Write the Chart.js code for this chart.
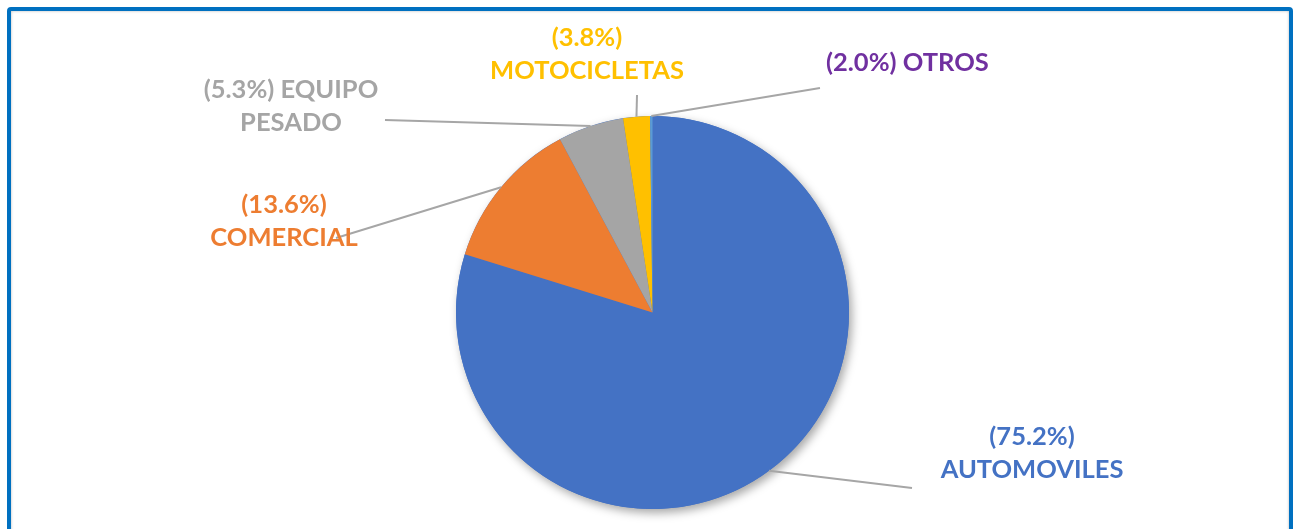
<!DOCTYPE html>
<html>
<head>
<meta charset="utf-8">
<script src="https://cdn.jsdelivr.net/npm/chart.js@4"></script>
<style>
    body { margin: 0; background: #fff; }
    #wrap { position: relative; width: 1293px; height: 529px; overflow: hidden; }
    #pieChart { position: absolute; left: 0; top: 0; }
    #frame {
        position: absolute; left: 7px; top: 7px; width: 1286px; height: 600px;
        box-sizing: border-box; border: 4px solid #0070C0; border-radius: 4px;
        box-shadow: inset 0 0 3px rgba(0,0,0,0.28);
        pointer-events: none;
    }
</style>
</head>
<body>
<div id="wrap">
    <canvas id="pieChart" width="1293" height="529"></canvas>
    <div id="frame"></div>
</div>
<script>
// slice sizes as drawn, printed percentages from the labels
const categories = ['AUTOMOVILES', 'COMERCIAL', 'EQUIPO PESADO', 'MOTOCICLETAS', 'OTROS'];
const sliceValues = [79.8, 12.4, 5.4, 2.2, 0.2];
const printedPercents = ['75.2%', '13.6%', '5.3%', '3.8%', '2.0%'];
const sliceColors = ['#4472C4', '#ED7D31', '#A5A5A5', '#FFC000', '#5B9BD5'];
const textColors = ['#4472C4', '#ED7D31', '#A5A5A5', '#FFC000', '#7030A0'];

// label text lines
const labelLines = [
    ['(' + printedPercents[0] + ')', categories[0]],
    ['(' + printedPercents[1] + ')', categories[1]],
    ['(' + printedPercents[2] + ') EQUIPO', 'PESADO'],
    ['(' + printedPercents[3] + ')', categories[3]],
    ['(' + printedPercents[4] + ') ' + categories[4]]
];

// where each label sits and where its leader line ends (pixels)
const labelLayout = [
    { x: 1032, y: 437, align: 'center', lineEnd: [912, 488] },
    { x: 284, y: 205, align: 'center', lineEnd: [336, 238] },
    { x: 291, y: 90, align: 'center', lineEnd: [385, 120] },
    { x: 587, y: 38, align: 'center', lineEnd: [637, 95] },
    { x: 826, y: 63, align: 'left', lineEnd: [820, 88] }
];

const lineGap = 33;
const labelFont = 'bold 25.5px Lato';

const shadowPlugin = {
    id: 'pieShadow',
    beforeDatasetsDraw(chart) {
        let arc = chart.getDatasetMeta(0).data[0];
        let ctx = chart.ctx;
        ctx.save();
        ctx.shadowColor = 'rgba(0,0,0,0.35)';
        ctx.shadowBlur = 10;
        ctx.shadowOffsetX = 3;
        ctx.shadowOffsetY = 4;
        ctx.beginPath();
        ctx.arc(arc.x, arc.y, arc.outerRadius, 0, Math.PI * 2);
        ctx.fillStyle = sliceColors[0];
        ctx.fill();
        ctx.restore();
    }
};

const labelPlugin = {
    id: 'outerLabels',
    afterDraw(chart) {
        let ctx = chart.ctx;
        let arcs = chart.getDatasetMeta(0).data;
        ctx.save();
        arcs.forEach((arc, i) => {
            let mid = (arc.startAngle + arc.endAngle) / 2;
            let sx = arc.x + Math.cos(mid) * arc.outerRadius;
            let sy = arc.y + Math.sin(mid) * arc.outerRadius;
            let lay = labelLayout[i];
            ctx.strokeStyle = '#A6A6A6';
            ctx.lineWidth = 2;
            ctx.beginPath();
            ctx.moveTo(sx, sy);
            ctx.lineTo(lay.lineEnd[0], lay.lineEnd[1]);
            ctx.stroke();
        });
        ctx.font = labelFont;
        ctx.textBaseline = 'middle';
        arcs.forEach((arc, i) => {
            let lay = labelLayout[i];
            ctx.fillStyle = textColors[i];
            ctx.textAlign = lay.align;
            labelLines[i].forEach((line, j) => {
                ctx.fillText(line, lay.x, lay.y + j * lineGap);
            });
        });
        ctx.restore();
    }
};

function drawChart() {
    let ctx = document.getElementById('pieChart').getContext('2d');
    new Chart(ctx, {
        type: 'pie',
        data: {
            labels: categories,
            datasets: [{
                data: sliceValues,
                backgroundColor: sliceColors,
                borderWidth: 0
            }]
        },
        options: {
            responsive: false,
            animation: false,
            devicePixelRatio: 1,
            layout: { padding: { top: 116, bottom: 20, left: 12, right: 0 } },
            plugins: {
                legend: { display: false },
                tooltip: { enabled: false }
            }
        },
        plugins: [shadowPlugin, labelPlugin]
    });
}

document.addEventListener('DOMContentLoaded', () => {
    drawChart();
});
</script>
</body>
</html>
